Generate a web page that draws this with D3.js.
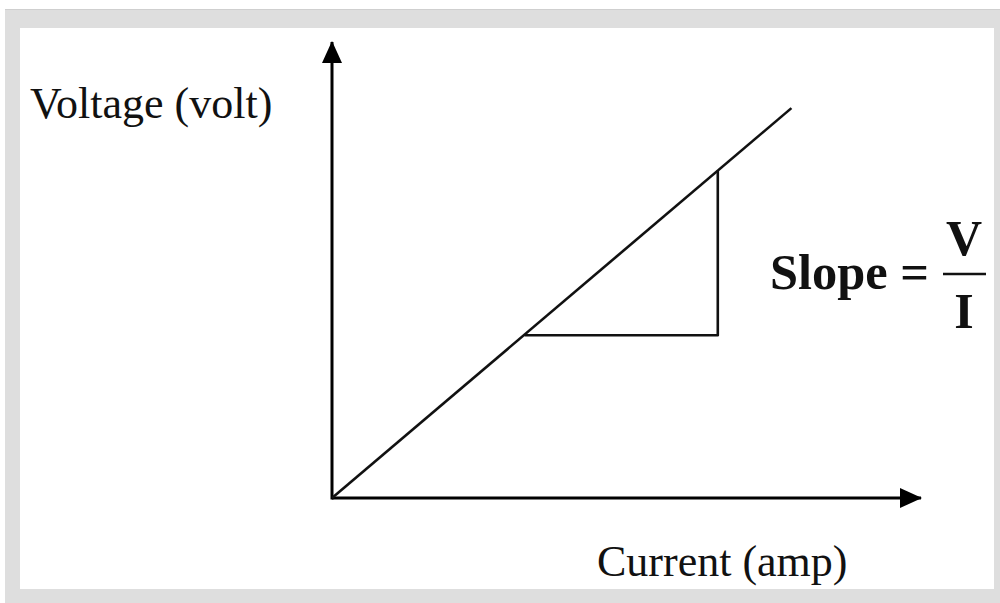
<!DOCTYPE html>
<html><head><meta charset="utf-8">
<script src="https://cdn.jsdelivr.net/npm/d3@7"></script>
<style>html,body{margin:0;padding:0;background:#fff;}svg{display:block;}</style>
</head><body>
<script>
// Data (arbitrary units)
const current = [0, 7.8];          // I values for the V-I line
const voltage = [0, 8.55];         // V values for the V-I line
const triI = [3.27, 6.55, 6.55];   // slope triangle: start, corner, top
const triV = [3.57, 3.57, 7.18];
const xLabel = "Current (amp)";
const yLabel = "Voltage (volt)";

const W = 1000, H = 603;
const svg = d3.select("body").append("svg").attr("width", W).attr("height", H);

// frame
svg.append("rect").attr("x",5).attr("y",9).attr("width",995).attr("height",594).attr("fill","#dedede");
svg.append("line").attr("x1",5).attr("x2",1000).attr("y1",9.5).attr("y2",9.5).attr("stroke","#cfcfcf").attr("stroke-width",1);
svg.append("rect").attr("x",20).attr("y",28).attr("width",974).attr("height",561).attr("fill","#fff");

const x = d3.scaleLinear().domain([0,10]).range([332,921]);
const y = d3.scaleLinear().domain([0,10]).range([498,42]);

// arrow markers
const defs = svg.append("defs");
defs.append("marker").attr("id","arr").attr("viewBox","0 0 22 20").attr("refX",21).attr("refY",10)
  .attr("markerWidth",22).attr("markerHeight",20).attr("markerUnits","userSpaceOnUse").attr("orient","auto")
  .append("path").attr("d","M0,0 L22,10 L0,20 Z").attr("fill","#000");

// axes
svg.append("line").attr("x1",x(0)).attr("y1",y(0)).attr("x2",x(10)).attr("y2",y(0))
  .attr("stroke","#000").attr("stroke-width",3).attr("marker-end","url(#arr)");
svg.append("line").attr("x1",x(0)).attr("y1",y(0)+1.5).attr("x2",x(0)).attr("y2",y(10))
  .attr("stroke","#000").attr("stroke-width",3).attr("marker-end","url(#arr)");

// V-I line
const pts = current.map((c,i)=>[c, voltage[i]]);
svg.append("path").datum(pts)
  .attr("d", d3.line().x(d=>x(d[0])).y(d=>y(d[1])))
  .attr("fill","none").attr("stroke","#111").attr("stroke-width",2.6);

// slope triangle
const tri = triI.map((c,i)=>[c, triV[i]]);
svg.append("path").datum(tri)
  .attr("d", d3.line().x(d=>x(d[0])).y(d=>y(d[1])))
  .attr("fill","none").attr("stroke","#111").attr("stroke-width",2.6).attr("stroke-linejoin","round");

const serif = "'Liberation Serif','DejaVu Serif',serif";
svg.append("text").attr("x",30).attr("y",118).attr("font-family",serif).attr("font-size",44)
  .attr("fill","#111").text(yLabel);
svg.append("text").attr("x",597).attr("y",576).attr("font-family",serif).attr("font-size",44)
  .attr("fill","#111").text(xLabel);

// Slope = V / I
svg.append("text").attr("x",770).attr("y",289).attr("font-family",serif).attr("font-size",50)
  .attr("font-weight","bold").attr("fill","#111").attr("textLength",159).attr("lengthAdjust","spacingAndGlyphs").text("Slope =");
svg.append("text").attr("x",964).attr("y",255).attr("text-anchor","middle").attr("font-family",serif).attr("font-size",50)
  .attr("font-weight","bold").attr("fill","#111").text("V");
svg.append("line").attr("x1",943).attr("x2",986).attr("y1",274).attr("y2",274).attr("stroke","#111").attr("stroke-width",2.5);
svg.append("text").attr("x",964).attr("y",328).attr("text-anchor","middle").attr("font-family",serif).attr("font-size",50)
  .attr("font-weight","bold").attr("fill","#111").text("I");
</script>
</body></html>
